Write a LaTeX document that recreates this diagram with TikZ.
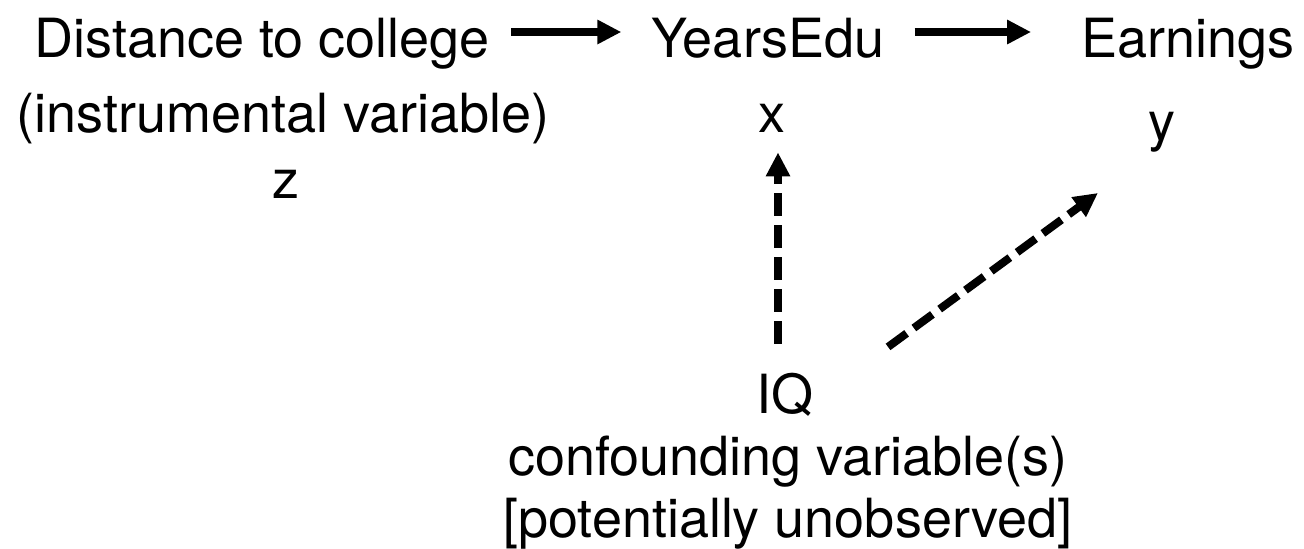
\documentclass[tikz,border=0pt]{standalone}
\usepackage{fontspec}
\setmainfont{TeX Gyre Heros}
\usetikzlibrary{arrows.meta}
\begin{document}
\begin{tikzpicture}[x=0.5pt,y=-0.5pt]
\tikzstyle{lbl}=[anchor=base, inner sep=0pt, font=\fontsize{27}{31}\selectfont, text height=20pt, text depth=6pt]
\tikzstyle{arrow}=[-{Triangle[length=12pt,width=11.5pt]}, line width=4pt]
\tikzstyle{dasharrow}=[arrow, dash pattern=on 11.5pt off 4.5pt]
\useasboundingbox (0,0) rectangle (1304,548);
\draw node[lbl] (dist)  at (262,57)  {Distance to college};
\draw node[lbl] (inst)  at (283,132) {(instrumental variable)};
\draw node[lbl] (zvar)  at (286,198) {z};
\draw node[lbl] (years) at (768,57)  {YearsEdu};
\draw node[lbl] (xvar)  at (772,132) {x};
\draw node[lbl] (earn)  at (1188,57) {Earnings};
\draw node[lbl] (yvar)  at (1162,140) {y};
\draw node[lbl] (iq)    at (785,413) {IQ};
\draw node[lbl] (conf)  at (788,475) {confounding variable(s)};
\draw node[lbl] (unobs) at (788,537) {[potentially unobserved]};
\draw[arrow, shorten <=10.5pt, shorten >=15pt] ([yshift=5.5pt]dist.east) -- ([yshift=5.5pt]years.west);
\draw[arrow, shorten <=15pt, shorten >=25pt] ([yshift=5.5pt]years.east) -- ([yshift=5.5pt]earn.west);
\draw[dasharrow, shorten <=14.5pt, shorten >=4pt] ([xshift=-3.5pt]iq.north) -- ([xshift=-3.5pt]iq.north |- xvar.south);
\draw[dasharrow, shorten <=63.9pt, shorten >=39.7pt] ([yshift=-11.75pt]iq.center) -- ([yshift=-10pt]yvar.center);
\end{tikzpicture}
\end{document}
